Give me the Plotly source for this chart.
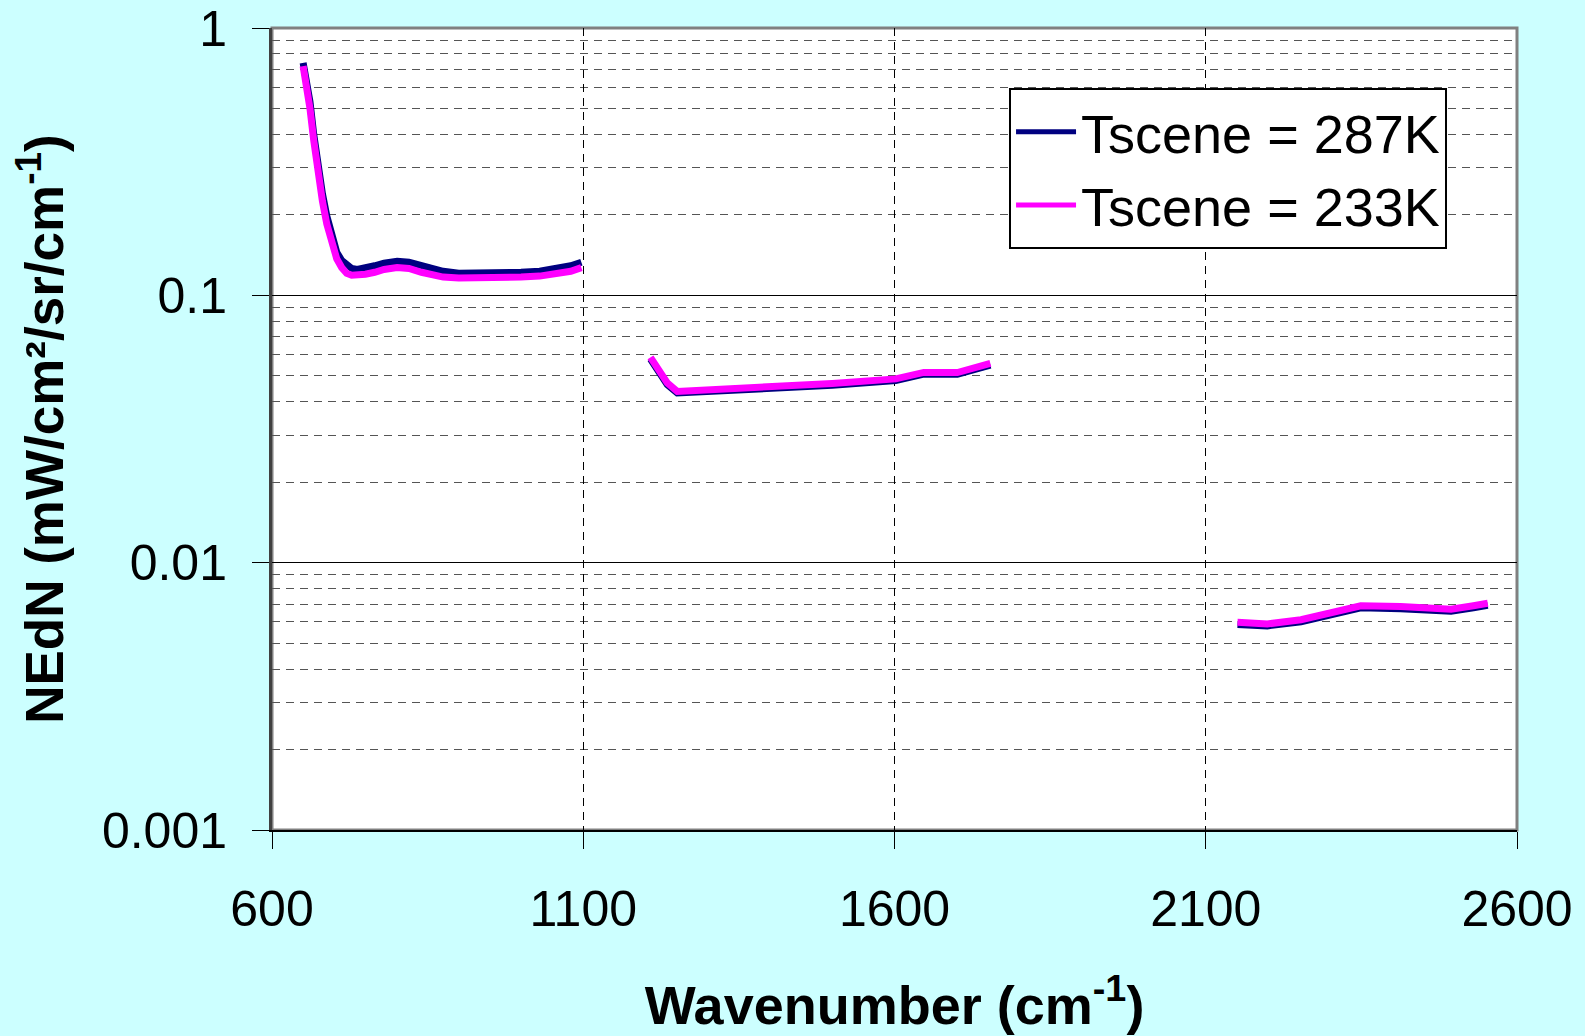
import plotly.graph_objects as go

# ---- data ----
wn_287 = [650, 655, 661, 667, 674, 681, 688, 696, 704, 712, 720, 728, 737, 750, 765, 780, 801, 820, 840, 860, 875, 900, 930, 955, 980, 1000, 1030, 1060, 1080, 1097,
          None,
          1208, 1220, 1235, 1251, 1300, 1400, 1500, 1602, 1647, 1701, 1754,
          None,
          2151, 2199, 2253, 2306, 2349, 2413, 2494, 2530, 2553]
nedn_287 = [0.74, 0.64, 0.53, 0.40, 0.30, 0.24, 0.198, 0.165, 0.145, 0.135, 0.129, 0.126, 0.125, 0.126, 0.129, 0.132, 0.134, 0.133, 0.129, 0.125, 0.123, 0.121, 0.121, 0.121, 0.122, 0.122, 0.123, 0.126, 0.129, 0.133,
            None,
            0.0578, 0.0523, 0.0463, 0.0431, 0.0436, 0.0449, 0.0461, 0.0480, 0.0507, 0.0507, 0.0548,
            None,
            0.00587, 0.00580, 0.00601, 0.00639, 0.00678, 0.00673, 0.00658, 0.00678, 0.00692]

wn_233 = [650, 655, 661, 667, 674, 681, 688, 696, 704, 712, 720, 728, 737, 750, 765, 780, 801, 820, 840, 860, 875, 900, 930, 955, 980, 1000, 1030, 1060, 1080, 1097,
          None,
          1208, 1220, 1235, 1251, 1300, 1400, 1500, 1602, 1647, 1701, 1754,
          None,
          2151, 2199, 2253, 2306, 2349, 2413, 2494, 2530, 2553]
nedn_233 = [0.72, 0.62, 0.50, 0.38, 0.285, 0.225, 0.185, 0.155, 0.137, 0.127, 0.121, 0.119, 0.119, 0.120, 0.122, 0.125, 0.127, 0.126, 0.122, 0.119, 0.117, 0.116, 0.116, 0.116, 0.117, 0.117, 0.118, 0.120, 0.123, 0.127,
            None,
            0.0586, 0.0530, 0.0470, 0.0437, 0.0442, 0.0455, 0.0468, 0.0487, 0.0515, 0.0514, 0.0556,
            None,
            0.00598, 0.00590, 0.00612, 0.00650, 0.00690, 0.00685, 0.00670, 0.00690, 0.00705]

x_ticks = [600, 1100, 1600, 2100, 2600]
y_ticks = [0.001, 0.01, 0.1, 1]
y_tick_text = ["0.001", "0.01", "0.1", "1"]
y_minor = [k * 10 ** e for e in (-3, -2, -1) for k in range(2, 10)]

series_names = ["Tscene = 287K", "Tscene = 233K"]
series_colors = ["#000080", "#FF00FF"]

FONT = "Liberation Sans, Arial, sans-serif"
BG = "#CCFFFF"

fig = go.Figure()
fig.add_trace(go.Scatter(x=wn_287, y=nedn_287, mode="lines", name=series_names[0],
                         line=dict(color=series_colors[0], width=7), connectgaps=False))
fig.add_trace(go.Scatter(x=wn_233, y=nedn_233, mode="lines", name=series_names[1],
                         line=dict(color=series_colors[1], width=7), connectgaps=False))

# plot-area frame (gray)
fig.add_shape(type="rect", xref="paper", yref="paper", x0=0, y0=0, x1=1, y1=1,
              line=dict(color="#808080", width=3), layer="below")

fig.update_layout(
    width=1585, height=1036,
    paper_bgcolor=BG, plot_bgcolor="#FFFFFF",
    margin=dict(l=272, r=68, t=28, b=206, autoexpand=False),
    font=dict(family=FONT, color="#000000", size=50),
    showlegend=True,
    legend=dict(x=0.592, y=0.925, xanchor="left", yanchor="top",
                bgcolor="#FFFFFF", bordercolor="#000000", borderwidth=2,
                font=dict(size=54, family=FONT), tracegroupgap=0,
                itemwidth=60, itemsizing="constant"),
    xaxis=dict(range=[600, 2600], tickvals=x_ticks, ticktext=[str(v) for v in x_ticks],
               showgrid=True, gridcolor="#000000", griddash="8px,6px", gridwidth=1,
               showline=True, linecolor="#000000", linewidth=2,
               ticks="outside", ticklen=17, tickcolor="#000000", tickwidth=1,
               tickfont=dict(size=50), ticklabelstandoff=17, zeroline=False,
               automargin=False,
               title=dict(text="<b>Wavenumber (cm<sup>-1</sup>)</b>", font=dict(size=54), standoff=50)),
    yaxis=dict(type="log", range=[-3, 0], tickvals=y_ticks, ticktext=y_tick_text,
               showgrid=True, gridcolor="#000000", gridwidth=1,
               showline=True, linecolor="#404040", linewidth=3,
               ticks="outside", ticklen=17, tickcolor="#000000", tickwidth=1,
               tickfont=dict(size=50), ticklabelstandoff=15, zeroline=False,
               automargin=False,
               minor=dict(tickvals=y_minor, showgrid=True, gridcolor="#555555",
                          griddash="8px,6px", gridwidth=1, ticks=""),
               title=dict(text="<b>NEdN (mW/cm²/sr/cm<sup>-1</sup>)</b>", font=dict(size=53), standoff=22)),
)

fig.write_html(
    "out.html",
    config={"displayModeBar": False},
    post_script="document.body.style.margin='0';document.body.style.background='%s';"
                "document.body.style.overflow='hidden';" % BG,
)
